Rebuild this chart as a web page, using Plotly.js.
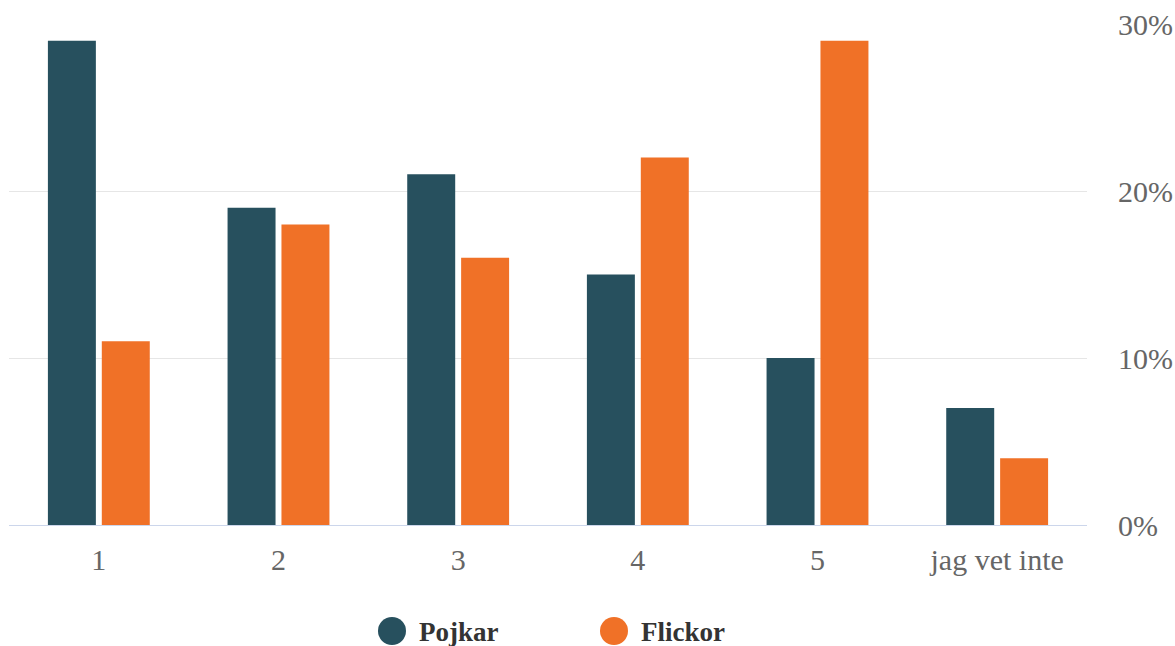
<!DOCTYPE html>
<html>
<head>
<meta charset="utf-8">
<script src="https://cdn.plot.ly/plotly-3.0.1.min.js"></script>
<style>html,body{margin:0;padding:0;background:#fff;}#chart{width:1175px;height:646px;}</style>
</head>
<body>
<div id="chart"></div>
<script>
const categories = ['1', '2', '3', '4', '5', 'jag vet inte'];
const pojkar = [29, 19, 21, 15, 10, 7];
const flickor = [11, 18, 16, 22, 29, 4];
const seriesNames = ['Pojkar', 'Flickor'];
const colors = ['#27505e', '#f07127'];
const yTicks = [0, 10, 20, 30];
const yTickLabels = ['0%', '10%', '20%', '30%'];

const serif = 'Times New Roman, Liberation Serif, DejaVu Serif, serif';

const traces = [
  {type: 'bar', x: categories, y: pojkar, name: seriesNames[0], marker: {color: colors[0]}, hoverinfo: 'y+name'},
  {type: 'bar', x: categories, y: flickor, name: seriesNames[1], marker: {color: colors[1]}, hoverinfo: 'y+name'}
];

// custom legend (circle symbols like the reference)
const legendX = [392, 614];
const W = 1175 - 9 - 88, H = 501;
const shapes = [];
const annotations = [];
seriesNames.forEach((n, i) => {
  shapes.push({type: 'circle', xref: 'paper', yref: 'paper',
    x0: (legendX[i] - 14 - 9) / W, x1: (legendX[i] + 14 - 9) / W,
    y0: (525 - 631 - 14) / H, y1: (525 - 631 + 14) / H,
    fillcolor: colors[i], line: {width: 0}});
  annotations.push({xref: 'paper', yref: 'paper', x: (legendX[i] + 25 - 9) / W, y: (525 - 632) / H,
    xanchor: 'left', yanchor: 'middle', showarrow: false, text: '<b>' + n + '</b>',
    font: {family: serif, size: 27, color: '#333333'}});
});

const layout = {
  width: 1175, height: 646,
  margin: {l: 9, r: 88, t: 24, b: 121},
  paper_bgcolor: '#ffffff', plot_bgcolor: '#ffffff',
  barmode: 'group', bargap: 0.40, bargroupgap: 0.11,
  font: {family: serif, color: '#666666', size: 30},
  xaxis: {
    type: 'category', tickvals: categories, ticktext: categories,
    showgrid: false, showline: true, linecolor: '#ccd6eb', linewidth: 1,
    ticks: '', ticklabelstandoff: 8, zeroline: false,
    tickfont: {family: serif, size: 30, color: '#666666'}
  },
  yaxis: {
    side: 'right', range: [0, 30], tickvals: yTicks, ticktext: yTickLabels,
    showgrid: true, gridcolor: '#e6e6e6', gridwidth: 1, zeroline: false,
    showline: false, ticks: '', ticklabelstandoff: 30,
    tickfont: {family: serif, size: 30, color: '#666666'}
  },
  shapes: shapes,
  annotations: annotations,
  showlegend: false
};

Plotly.newPlot('chart', traces, layout, {displayModeBar: false});
</script>
</body>
</html>
